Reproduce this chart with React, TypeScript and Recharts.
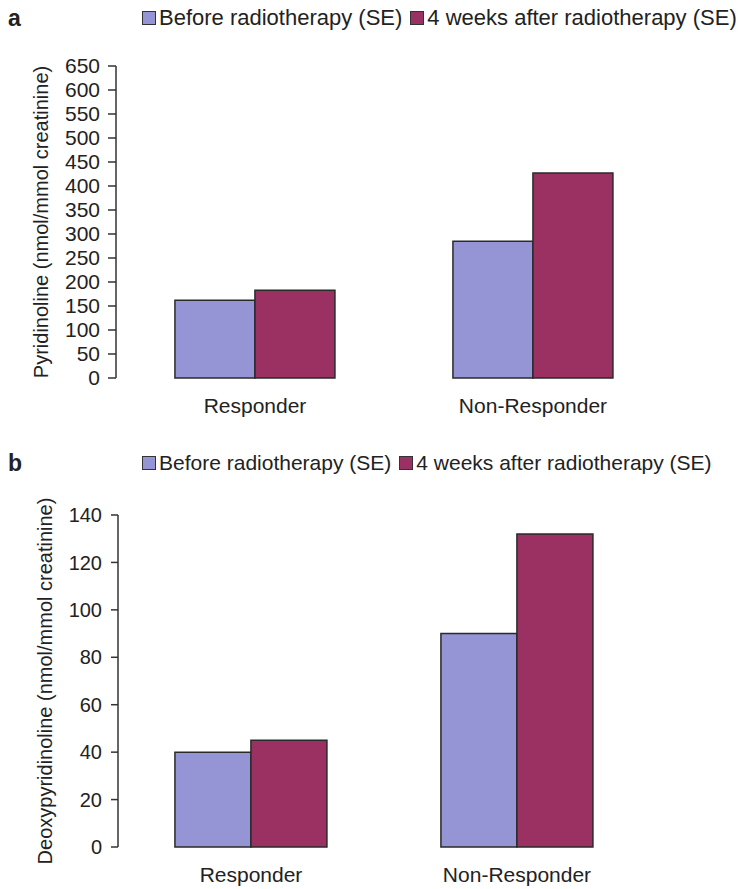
import React from "react";
import { BarChart, Bar, XAxis, YAxis, Legend, Label } from "recharts";

const FONT = '"Liberation Sans", Arial, sans-serif';
const INK = "#222";
const BLUE = "#9595d5";
const WINE = "#9b3163";

const groups = ["Responder", "Non-Responder"];
const seriesNames = ["Before radiotherapy (SE)", "4 weeks after radiotherapy (SE)"];

// panel a: pyridinoline
const pyrBefore = [162, 285];
const pyrAfter = [183, 427];
const pyrTicks = [0, 50, 100, 150, 200, 250, 300, 350, 400, 450, 500, 550, 600, 650];

// panel b: deoxypyridinoline
const dpdBefore = [40, 90];
const dpdAfter = [45, 132];
const dpdTicks = [0, 20, 40, 60, 80, 100, 120, 140];

// category boundaries on the x axis
const edgeTicks = [0, 1, 2];

function toRows(before: number[], after: number[]) {
  return groups.map((g, i) => ({ group: g, before: before[i], after: after[i] }));
}

function LegendBox({ payload, fontSize }: any) {
  // keep series order (recharts sorts legend items by name)
  const items = [...(payload || [])].sort(
    (a: any, b: any) => seriesNames.indexOf(a.value) - seriesNames.indexOf(b.value)
  );
  return (
    <div style={{ display: "flex", alignItems: "center", height: 30, fontFamily: FONT, fontSize, color: INK, whiteSpace: "nowrap" }}>
      {items.map((p: any, i: number) => (
        <span key={i} style={{ display: "inline-flex", alignItems: "center", marginRight: 8 }}>
          <span style={{ width: 12, height: 12, background: p.color, border: "1.5px solid #333", marginRight: 3 }} />
          {p.value}
        </span>
      ))}
    </div>
  );
}

function YTitle({ viewBox, text, cx }: any) {
  const x = viewBox.x + cx;
  const y = viewBox.y + viewBox.height / 2;
  return (
    <text x={x} y={y} transform={`rotate(-90, ${x}, ${y})`} textAnchor="middle" dominantBaseline="central"
      fontFamily={FONT} fontSize={20} fill={INK}>
      {text}
    </text>
  );
}

function Panel(props: any) {
  const { letter, top, height, margin, yWidth, legendTop, legendFont, rows, ticks, yLabel, labelX, tickSize, tickMargin, tickFont, gap } = props;
  return (
    <div style={{ position: "absolute", left: 0, top, width: 747, height }}>
      <div style={{ position: "absolute", left: 8, top: legendTop + 1, fontFamily: FONT, fontSize: 23, fontWeight: "bold", color: INK, lineHeight: "28px" }}>
        {letter}
      </div>
      <BarChart width={747} height={height} data={rows} margin={margin} barGap={0} barCategoryGap={gap}>
        <Legend verticalAlign="top" align="left" wrapperStyle={{ top: legendTop, left: 142, width: 600, height: 30 }}
          content={(p: any) => <LegendBox {...p} fontSize={legendFont} />} />
        <XAxis xAxisId="edge" type="number" domain={[0, 2]} ticks={edgeTicks} tickFormatter={() => ""}
          height={0} tickSize={8} stroke="#333" strokeWidth={1.5} />
        <XAxis xAxisId="cat" dataKey="group" height={height - margin.top - 30 - props.plotH - margin.bottom}
          axisLine={false} tickLine={false} tickSize={8} tickMargin={12}
          tick={{ fontFamily: FONT, fontSize: 21, fill: INK }} />
        <YAxis domain={[0, ticks[ticks.length - 1]]} ticks={ticks} interval={0} width={yWidth}
          tickSize={tickSize} tickMargin={tickMargin} stroke="#333" strokeWidth={1.5}
          tick={{ fontFamily: FONT, fontSize: tickFont, fill: INK }}>
          <Label content={(p: any) => <YTitle {...p} text={yLabel} cx={labelX} />} />
        </YAxis>
        <Bar xAxisId="cat" dataKey="before" name={seriesNames[0]} fill={BLUE} stroke="#2a2a2a" strokeWidth={1.5} isAnimationActive={false} />
        <Bar xAxisId="cat" dataKey="after" name={seriesNames[1]} fill={WINE} stroke="#2a2a2a" strokeWidth={1.5} isAnimationActive={false} />
      </BarChart>
    </div>
  );
}

export default function App() {
  return (
    <div style={{ position: "absolute", left: 0, top: 0, width: 747, height: 889, background: "#fff" }}>
      <Panel letter="a" top={0} height={430} margin={{ top: 36, right: 75, left: 0, bottom: 0 }} plotH={312}
        yWidth={116} legendTop={3} legendFont={22} rows={toRows(pyrBefore, pyrAfter)} ticks={pyrTicks}
        yLabel="Pyridinoline (nmol/mmol creatinine)" labelX={41} tickSize={8} tickMargin={8} tickFont={21} gap="21.2%" />
      <Panel letter="b" top={430} height={459} margin={{ top: 55, right: 97, left: 0, bottom: 0 }} plotH={332}
        yWidth={118} legendTop={18} legendFont={21} rows={toRows(dpdBefore, dpdAfter)} ticks={dpdTicks}
        yLabel="Deoxypyridinoline (nmol/mmol creatinine)" labelX={45} tickSize={7} tickMargin={9} tickFont={20} gap="21.4%" />
    </div>
  );
}
